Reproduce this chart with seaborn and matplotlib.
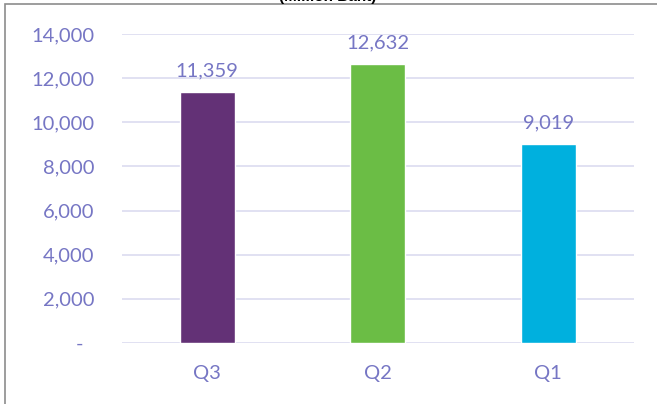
import matplotlib
matplotlib.use("Agg")
import matplotlib.pyplot as plt
import seaborn as sns
import pandas as pd
from matplotlib.patches import Rectangle

categories = ["Q3", "Q2", "Q1"]
values = [11359, 12632, 9019]
colors = ["#633176", "#6BBD45", "#00B0DE"]
yticks = [0, 2000, 4000, 6000, 8000, 10000, 12000, 14000]
ytick_labels = ["-  ", "2,000", "4,000", "6,000", "8,000", "10,000", "12,000", "14,000"]
title = "(Million Baht)"

sns.set_theme(style="white")
plt.rcParams['font.family'] = ['Lato', 'DejaVu Sans']
txt_color = "#7676C4"
fs = 14.5

df = pd.DataFrame({"cat": categories, "val": values})
fig = plt.figure(figsize=(6.57, 4.04), dpi=100)
ax = fig.add_axes([122/657, 1 - 343/404, (633.5-122)/657, (343-34)/404])
sns.barplot(data=df, x="cat", y="val", hue="cat", palette=colors, legend=False,
            width=0.32, ax=ax, saturation=1, zorder=3)
ax.set_xlim(-0.5, 2.5)
ax.set_ylim(0, 14000)
ax.set_yticks(yticks)
ax.set_yticklabels(ytick_labels)
ax.grid(axis="y", color="#DCDCF0", linewidth=1.2, zorder=0)
ax.set_axisbelow(True)
for s in ax.spines.values():
    s.set_visible(False)
ax.set_xlabel("")
ax.set_ylabel("")
ax.tick_params(axis="y", length=0, pad=20, labelsize=fs, labelcolor=txt_color)
ax.tick_params(axis="x", length=0, pad=16, labelsize=fs, labelcolor=txt_color)
for i, v in enumerate(values):
    ax.annotate(f"{v:,}", (i, v), xytext=(0, 9), textcoords="offset points",
                ha="center", va="bottom", fontsize=fs, color=txt_color)

fig.text(328/657, 1 - 1/404, title, ha="center", va="baseline", fontsize=11,
         fontweight="bold", family=["Liberation Sans"], color="black")
fig.patches.append(Rectangle((5/657, -0.1), 1.2, 1 - 4/404 + 0.1, transform=fig.transFigure,
                             fill=False, edgecolor="#8C8C8C", linewidth=1.2))
fig.savefig("out.png", dpi=100)
